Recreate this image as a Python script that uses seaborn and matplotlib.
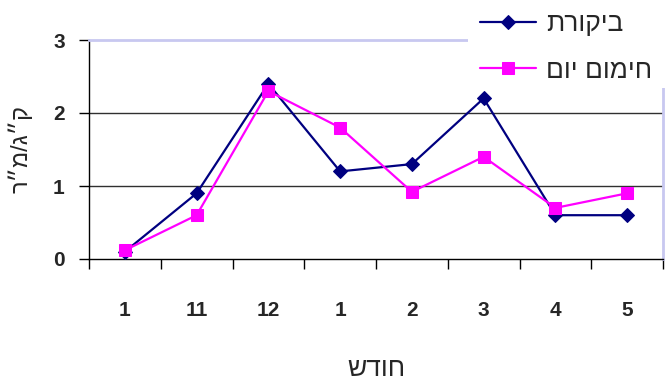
import matplotlib
matplotlib.use("Agg")
import matplotlib.pyplot as plt
from matplotlib.patches import Rectangle
import seaborn as sns
import pandas as pd

# Monthly readings (kg/m²) for the two treatments
months = ["1", "11", "12", "1", "2", "3", "4", "5"]
control = [0.1, 0.9, 2.4, 1.2, 1.3, 2.2, 0.6, 0.6]
heating = [0.12, 0.6, 2.3, 1.8, 0.92, 1.4, 0.7, 0.9]
series_names = ["ביקורת", "חימום יום"]
x_title = "חודש"
y_title = "ק״ג/מ״ר"
y_ticks = [0, 1, 2, 3]


def rtl(s):
    # matplotlib lays glyphs out left to right; flip Hebrew so it reads right to left
    return s[::-1]


pos = list(range(len(months)))
df = pd.DataFrame({
    "pos": pos * 2,
    "value": control + heating,
    "series": [series_names[0]] * len(pos) + [series_names[1]] * len(pos),
})

sns.set_style("white")
plt.rcParams["font.family"] = ["DejaVu Sans"]
heb = ["Liberation Sans", "DejaVu Sans"]
num_font = {"family": "Liberation Sans", "size": 15, "weight": "bold"}

fig = plt.figure(figsize=(6.71, 3.81), dpi=100)
ax = fig.add_axes([89 / 671, 1 - 259 / 381, (663 - 89) / 671, (259 - 40) / 381])

palette = {series_names[0]: "#000080", series_names[1]: "#FF00FF"}
markers = {series_names[0]: "D", series_names[1]: "s"}
sizes = {series_names[0]: 7, series_names[1]: 8}

for name in series_names:
    sub = df[df["series"] == name]
    sns.lineplot(data=sub, x="pos", y="value", ax=ax, color=palette[name],
                 marker=markers[name], markersize=sizes[name],
                 markeredgecolor=palette[name], linewidth=1.6,
                 label=rtl(name), zorder=4, clip_on=False)

ax.set_xlim(-0.5, len(months) - 0.5)
ax.set_ylim(0, 3)

# horizontal gridlines
for v in y_ticks[1:-1]:
    ax.axhline(v, color="#303030", linewidth=1.0, zorder=1)

# category boundaries carry tick marks, centres carry the labels
ax.set_xticks([p - 0.5 for p in pos] + [len(months) - 0.5])
ax.set_xticklabels([])
ax.set_xticks(pos, minor=True)
ax.set_xticklabels(months, minor=True, fontdict=num_font)
ax.tick_params(axis="x", which="major", direction="out", length=7,
               width=1, color="black", bottom=True)
ax.tick_params(axis="x", which="minor", length=0, pad=30)

ax.set_yticks(y_ticks)
ax.set_yticklabels([str(v) for v in y_ticks], fontdict=num_font)
ax.tick_params(axis="y", direction="out", length=7.5, width=1,
               color="black", left=True, pad=10)

for side in ["left", "bottom"]:
    ax.spines[side].set_color("black")
    ax.spines[side].set_linewidth(1.0)
for side in ["top", "right"]:
    ax.spines[side].set_color("#C8C8F0")
    ax.spines[side].set_linewidth(2.0)

ax.set_xlabel(rtl(x_title), fontsize=19, family=heb, labelpad=27)
ax.set_ylabel(rtl(y_title), fontsize=17, family=heb, labelpad=15)

# white area behind the legend
ax.add_patch(Rectangle((468 / 671, 1 - 88 / 381), 1, 1, transform=fig.transFigure,
                       facecolor="white", edgecolor="none", zorder=3, clip_on=False))

leg = ax.legend(loc="upper left", bbox_to_anchor=(467 / 671, 1 + 1 / 381),
                bbox_transform=fig.transFigure, frameon=False,
                prop={"family": heb, "size": 19},
                borderpad=0, handlelength=2.1, handletextpad=0.4,
                labelspacing=0.85)
leg.set_zorder(6)

fig.savefig("out.png", dpi=100)
